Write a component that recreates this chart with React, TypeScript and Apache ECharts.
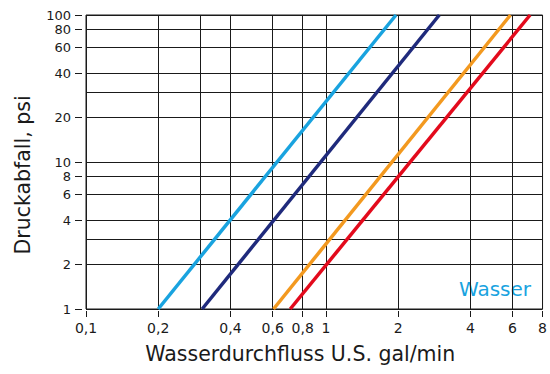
import React, { useEffect, useRef } from 'react';
import * as echarts from 'echarts';

// Axis values (log-log chart)
const xLabelValues = [0.1, 0.2, 0.4, 0.6, 0.8, 1, 2, 4, 6, 8];
const xGridValues = [0.1, 0.2, 0.3, 0.4, 0.6, 0.8, 1, 2, 4, 6, 8];
const yLabelValues = [1, 2, 4, 6, 8, 10, 20, 40, 60, 80, 100];
const yGridValues = [1, 2, 3, 4, 6, 8, 10, 20, 30, 40, 60, 80, 100];

// Curves: [flow gal/min, pressure drop psi]
const curveLightBlue = [[0.2, 1], [1.96, 100]];
const curveNavy = [[0.305, 1], [2.97, 100]];
const curveOrange = [[0.605, 1], [5.88, 100]];
const curveRed = [[0.71, 1], [7.1, 100]];

const legendText = 'Wasser';
const xTitle = 'Wasserdurchfluss U.S. gal/min';
const yTitle = 'Druckabfall, psi';

const FONT = 'DejaVu Sans';
const INK = '#1a1a1a';

const fmt = (v: number) => String(Math.round(v * 100) / 100).replace('.', ',');

export default function App() {
  const ref = useRef<HTMLDivElement>(null);
  useEffect(() => {
    if (!ref.current) return;
    const chart = echarts.init(ref.current, undefined, { renderer: 'svg' });
    const lineSeries = (name: string, data: number[][], color: string) => ({
      name,
      type: 'line',
      data,
      xAxisIndex: 0,
      yAxisIndex: 0,
      showSymbol: false,
      symbol: 'none',
      lineStyle: { color, width: 3.5 },
      itemStyle: { color },
      clip: true,
    });
    chart.setOption({
      animation: false,
      backgroundColor: '#ffffff',
      grid: {
        left: 86,
        right: 7,
        top: 15,
        bottom: 65,
        show: true,
        borderColor: INK,
        borderWidth: 1,
        backgroundColor: 'transparent',
      },
      xAxis: [
        {
          type: 'log',
          logBase: 10,
          min: 0.1,
          max: 8,
          position: 'bottom',
          axisLine: { show: false },
          axisTick: { show: false, customValues: xGridValues },
          axisLabel: { show: false },
          splitLine: { show: true, lineStyle: { color: INK, width: 1 } },
        },
        {
          type: 'log',
          logBase: 10,
          min: 0.1,
          max: 8,
          position: 'bottom',
          offset: 2,
          axisLine: { show: false },
          axisTick: { show: true, inside: false, length: 6, customValues: xLabelValues, lineStyle: { color: INK, width: 1 } },
          axisLabel: {
            customValues: xLabelValues,
            formatter: (v: number) => fmt(v),
            margin: 10,
            fontSize: 14,
            color: INK,
            fontFamily: FONT,
          },
          splitLine: { show: false },
          name: xTitle,
          nameLocation: 'middle',
          nameGap: 32,
          nameTextStyle: { fontSize: 20.5, color: INK, fontFamily: FONT, padding: [0, 28, 0, 0] },
        },
      ],
      yAxis: [
        {
          type: 'log',
          logBase: 10,
          min: 1,
          max: 100,
          position: 'left',
          axisLine: { show: false },
          axisTick: { show: false, customValues: yGridValues },
          axisLabel: { show: false },
          splitLine: { show: true, lineStyle: { color: INK, width: 1 } },
        },
        {
          type: 'log',
          logBase: 10,
          min: 1,
          max: 100,
          position: 'left',
          offset: 4,
          axisLine: { show: false },
          axisTick: { show: true, inside: false, length: 7, customValues: yLabelValues, lineStyle: { color: INK, width: 1 } },
          axisLabel: {
            customValues: yLabelValues,
            formatter: (v: number) => fmt(v),
            margin: 11,
            fontSize: 13,
            lineHeight: 10,
            color: INK,
            fontFamily: FONT,
          },
          splitLine: { show: false },
          name: yTitle,
          nameLocation: 'middle',
          nameGap: 49,
          nameTextStyle: { fontSize: 20.5, color: INK, fontFamily: FONT, padding: [0, 26, 0, 0] },
        },
      ],
      graphic: [
        {
          type: 'text',
          right: 19,
          top: 279,
          style: { text: legendText, fill: '#19a3df', fontSize: 20, fontFamily: FONT },
        },
      ],
      series: [
        lineSeries('Wasser', curveLightBlue, '#19a3df'),
        lineSeries('Kurve 2', curveNavy, '#1f2a7c'),
        lineSeries('Kurve 3', curveOrange, '#f3991f'),
        lineSeries('Kurve 4', curveRed, '#e30a1c'),
      ],
    });
    return () => chart.dispose();
  }, []);
  return <div ref={ref} style={{ position: 'fixed', left: 0, top: 0, width: 550, height: 374 }} />;
}
